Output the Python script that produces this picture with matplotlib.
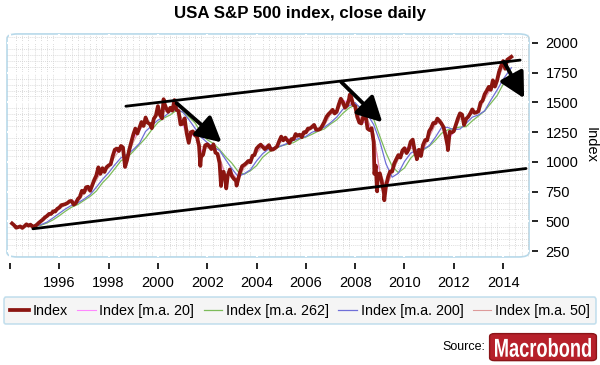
import numpy as np
import matplotlib.pyplot as plt
from matplotlib.patches import FancyBboxPatch, PathPatch
from matplotlib.textpath import TextPath
from matplotlib.font_manager import FontProperties
from matplotlib.transforms import Affine2D
from matplotlib.ticker import MultipleLocator

plt.rcParams['font.family'] = ['Liberation Sans', 'DejaVu Sans']

# S&P 500, month-end close, Jan 1994 .. Apr 2014
index_close = [
    482, 467, 446, 451, 457, 444, 458, 475, 463, 472, 454, 459,
    470, 487, 501, 515, 533, 545, 562, 562, 584, 582, 605, 616,
    636, 640, 645, 654, 669, 671, 640, 652, 687, 705, 757, 741,
    786, 791, 757, 801, 848, 885, 954, 899, 947, 915, 955, 970,
    980, 1049, 1102, 1112, 1091, 1134, 1121, 957, 1017, 1099, 1164, 1229,
    1280, 1238, 1286, 1335, 1302, 1373, 1329, 1320, 1283, 1363, 1389, 1469,
    1394, 1366, 1499, 1452, 1421, 1455, 1431, 1518, 1437, 1429, 1315, 1320,
    1366, 1240, 1160, 1249, 1256, 1224, 1211, 1134, 1041, 1060, 1139, 1148,
    1130, 1107, 1147, 1077, 1067, 990, 912, 916, 815, 886, 936, 880,
    856, 841, 848, 917, 964, 975, 990, 1008, 996, 1051, 1058, 1112,
    1131, 1145, 1126, 1107, 1121, 1141, 1102, 1104, 1115, 1130, 1174, 1212,
    1181, 1204, 1181, 1157, 1192, 1191, 1234, 1220, 1229, 1207, 1249, 1248,
    1280, 1281, 1295, 1311, 1270, 1270, 1277, 1304, 1336, 1378, 1401, 1418,
    1438, 1407, 1421, 1482, 1531, 1503, 1455, 1474, 1527, 1549, 1481, 1468,
    1379, 1331, 1323, 1386, 1400, 1280, 1267, 1283, 1166, 969, 896, 903,
    826, 735, 798, 873, 919, 919, 987, 1021, 1057, 1036, 1096, 1115,
    1074, 1104, 1169, 1187, 1089, 1031, 1102, 1049, 1141, 1183, 1181, 1258,
    1286, 1327, 1326, 1364, 1345, 1321, 1292, 1219, 1131, 1253, 1247, 1258,
    1312, 1366, 1408, 1398, 1310, 1362, 1379, 1407, 1441, 1412, 1416, 1426,
    1498, 1515, 1569, 1598, 1631, 1606, 1686, 1633, 1682, 1757, 1806, 1848,
    1783, 1859, 1872, 1884,
]
# daily highs/lows between month ends
extreme_dates = [2000.23, 2000.67, 2001.72, 2002.56, 2002.77, 2003.19,
                 2007.78, 2008.78, 2008.89, 2009.18, 2010.50, 2011.76]
extreme_values = [1527, 1520, 966, 797, 777, 800,
                  1565, 899, 752, 677, 1022, 1099]

# moving averages, quarter ends Dec 1994 .. Dec 2013, then Apr 2014
ma20 = [457, 494, 539, 573, 611, 643, 670, 670, 749, 774, 867, 923, 963,
        1076, 1113, 987, 1197, 1262, 1338, 1302, 1429, 1433, 1438, 1478, 1318,
        1200, 1240, 1088, 1144, 1127, 1029, 866, 908, 845, 970, 1002, 1085,
        1136, 1131, 1110, 1193, 1193, 1192, 1225, 1249, 1288, 1270, 1320, 1410,
        1414, 1517, 1501, 1475, 1327, 1340, 1225, 900, 767, 919, 1039, 1106,
        1137, 1060, 1095, 1220, 1327, 1333, 1175, 1253, 1387, 1336, 1424, 1421,
        1542, 1619, 1658, 1827, 1878]
ma50 = [462, 486, 531, 569, 601, 640, 665, 660, 734, 778, 845, 933, 947,
        1044, 1112, 1032, 1164, 1268, 1337, 1311, 1407, 1420, 1443, 1462, 1355,
        1255, 1243, 1129, 1116, 1128, 1045, 881, 901, 848, 952, 998, 1074,
        1134, 1123, 1107, 1172, 1189, 1180, 1228, 1235, 1285, 1284, 1306, 1399,
        1422, 1505, 1485, 1499, 1344, 1355, 1239, 923, 786, 904, 1022, 1082,
        1116, 1102, 1097, 1207, 1313, 1343, 1214, 1253, 1362, 1357, 1409, 1418,
        1527, 1612, 1667, 1804, 1872]
ma200 = [459, 471, 493, 529, 567, 604, 635, 655, 686, 724, 786, 852, 908,
         975, 1034, 1063, 1103, 1155, 1256, 1305, 1351, 1379, 1423, 1441, 1420,
         1357, 1284, 1209, 1162, 1124, 1096, 1018, 942, 877, 900, 933, 1008,
         1069, 1110, 1121, 1134, 1156, 1180, 1199, 1214, 1249, 1268, 1292, 1329,
         1376, 1442, 1471, 1497, 1443, 1400, 1313, 1172, 983, 871, 904, 1003,
         1073, 1100, 1105, 1136, 1206, 1288, 1290, 1270, 1276, 1324, 1376, 1395,
         1429, 1519, 1602, 1694, 1792]
ma262 = [461, 466, 486, 512, 547, 585, 619, 641, 675, 709, 754, 823, 876,
         942, 1009, 1034, 1088, 1144, 1200, 1270, 1331, 1369, 1395, 1433, 1420,
         1379, 1329, 1245, 1186, 1154, 1104, 1042, 989, 919, 896, 925, 968,
         1039, 1082, 1109, 1134, 1148, 1162, 1192, 1208, 1232, 1258, 1277, 1318,
         1353, 1408, 1453, 1478, 1459, 1421, 1359, 1215, 1076, 963, 909, 949,
         1031, 1081, 1099, 1131, 1180, 1240, 1269, 1281, 1293, 1296, 1345, 1386,
         1428, 1492, 1556, 1652, 1754]

# hand-drawn trend channel and arrows: (year, value) pairs
upper_line = ([1998.70, 2014.69], [1468, 1856])
lower_line = ([1994.93, 2014.93], [437, 944])
arrow_starts = [(2000.76, 1493), (2007.44, 1671), (2014.04, 1840)]
arrow_ends = [(2002.58, 1164), (2009.10, 1333), (2014.85, 1535)]

month_dates = 1994 + (np.arange(len(index_close)) + 1) / 12
dates = np.concatenate([month_dates, extreme_dates])
values = np.concatenate([index_close, extreme_values])
order = np.argsort(dates)
dates, values = dates[order], values[order]
ma_dates = np.append(1995 + np.arange(len(ma262) - 1) * 0.25, 2014 + 4 / 12)

fig = plt.figure(figsize=(6, 3.65), dpi=100)
ax = fig.add_axes([0.0117, 0.296, 0.87, 0.611])
ax.patch.set_visible(False)

# rounded light-blue frame
frame = FancyBboxPatch((0, 0), 1, 1, boxstyle='round,pad=0,rounding_size=0.02',
                       transform=ax.transAxes, fc='white', ec='#b7d9ea', lw=1.2,
                       zorder=-5, clip_on=False)
ax.add_patch(frame)

ax.plot(ma_dates, ma20, color='#ff88ff', lw=0.8, label='Index [m.a. 20]', zorder=2)
ax.plot(ma_dates, ma262, color='#7dbb5a', lw=0.9, label='Index [m.a. 262]', zorder=3)
ax.plot(ma_dates, ma200, color='#6f6fd8', lw=0.9, label='Index [m.a. 200]', zorder=3)
ax.plot(ma_dates, ma50, color='#dd9a9a', lw=0.8, label='Index [m.a. 50]', zorder=2)
ax.plot(dates, values, color='#8b1510', lw=2.7, label='Index', zorder=4)

ax.plot(*upper_line, color='black', lw=2, zorder=5, solid_capstyle='round')
ax.plot(*lower_line, color='black', lw=2, zorder=5, solid_capstyle='round')
for s, e in zip(arrow_starts, arrow_ends):
    ax.annotate('', xy=e, xytext=s, zorder=6, annotation_clip=False,
                arrowprops=dict(arrowstyle='-|>,head_length=0.95,head_width=0.5',
                                lw=2.8, color='black', mutation_scale=16,
                                shrinkA=0, shrinkB=0))

ax.set_xlim(1993.88, 2015.05)
ax.set_ylim(200, 2076)

ax.set_xticks(range(1994, 2015, 2))
ax.set_xticklabels([''] + [str(y) for y in range(1996, 2015, 2)])
ax.set_yticks(range(250, 2001, 250))
ax.xaxis.set_minor_locator(MultipleLocator(0.25))
ax.yaxis.set_minor_locator(MultipleLocator(50))
ax.yaxis.tick_right()
ax.yaxis.set_label_position('right')
for sp in ax.spines.values():
    sp.set_visible(False)
ax.spines['right'].set_position(('outward', 2))
ax.spines['bottom'].set_position(('outward', 4))
ax.tick_params(axis='both', which='major', labelsize=10.5, length=4.5, width=1.2,
               color='black')
ax.tick_params(axis='y', which='major', pad=5.5)
ax.tick_params(axis='x', which='major', pad=5)
ax.tick_params(axis='both', which='minor', length=0)
ax.grid(which='minor', color='#cfcfcf', lw=0.6, ls=(0, (1, 1.5)), zorder=-4)
ax.grid(which='major', color='white', lw=1.5, zorder=-3)
ax.set_axisbelow(True)

ax.set_ylabel('Index', rotation=270, fontsize=10.5, va='center')
ax.yaxis.set_label_coords(1.118, 0.5)

fig.text(0.5, 0.962, 'USA S&P 500 index, close daily', ha='center', va='center',
         fontsize=12.2, fontweight='bold')

handles, labels = ax.get_legend_handles_labels()
order_leg = [4, 0, 1, 2, 3]
leg = fig.legend([handles[i] for i in order_leg], [labels[i] for i in order_leg],
                 loc='center', ncol=5, bbox_to_anchor=(0.006, 0.108, 0.988, 0.08),
                 mode='expand', fontsize=10.4,
                 handlelength=1.3, handletextpad=0.25, columnspacing=0.5,
                 frameon=True, fancybox=True, borderpad=0.45, borderaxespad=0)
leg.get_frame().set_edgecolor('#b7d9ea')
leg.get_frame().set_facecolor('#f3f3f3')
leg.get_frame().set_linewidth(1.2)

fig.text(0.808, 0.049, 'Source:', ha='right', va='center', fontsize=9)

# Macrobond logo: red rounded box with condensed white lettering
logo = FancyBboxPatch((0.816, 0.012), 0.178, 0.074,
                      boxstyle='round,pad=0,rounding_size=0.008',
                      transform=fig.transFigure, fc='#b6202a', ec='#8a1418', lw=1)
fig.patches.append(logo)
tp = TextPath((0, 0), 'Macrobond', size=20,
              prop=FontProperties(family='Liberation Sans', weight='bold'))
ext = tp.get_extents()
sx = (96 / 600) / ext.width
sy = (19 / 365) / ext.height
tr = Affine2D().translate(-ext.x0, -ext.y0).scale(sx, sy).translate(0.825, 0.022)
fig.patches.append(PathPatch(tp, transform=tr + fig.transFigure,
                             fc='white', ec='none'))

fig.savefig('out.png', dpi=100)
